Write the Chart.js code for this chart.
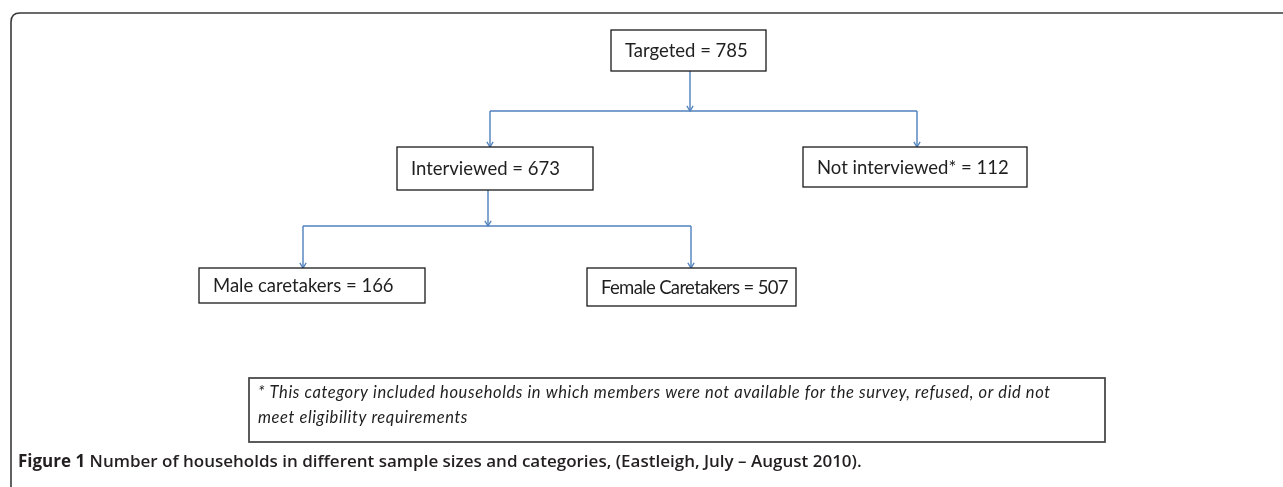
<!DOCTYPE html>
<html>
<head>
<meta charset="utf-8">
<script src="https://cdn.jsdelivr.net/npm/chart.js@4"></script>
<style>
  html, body { margin: 0; padding: 0; background: #fff; }
  canvas { display: block; }
</style>
</head>
<body>
<canvas id="flow" width="1283" height="487"></canvas>
<script>
// node names and household counts
const nodeNames = ['Targeted', 'Interviewed', 'Not interviewed*', 'Male caretakers', 'Female Caretakers'];
const nodeCounts = [785, 673, 112, 166, 507];
const footnoteLines = [
  '* This category included households in which members were not available for the survey, refused, or did not',
  'meet eligibility requirements'
];
const captionBold = 'Figure 1';
const captionText = ' Number of households in different sample sizes and categories, (Eastleigh, July \u2013 August 2010).';

// layout of the boxes, in axis units (x 0..1283, y 0..487 top down)
const boxLayout = [
  { x1: 611, y1: 30, x2: 766, y2: 71 },
  { x1: 397, y1: 147, x2: 593, y2: 190 },
  { x1: 803, y1: 147, x2: 1027, y2: 187 },
  { x1: 199, y1: 268, x2: 425, y2: 303 },
  { x1: 587, y1: 268, x2: 796, y2: 306 }
];
const footLayout = { x1: 249, y1: 378, x2: 1105, y2: 442 };

// connectors: [points], last point gets an arrow head when arrow is true
const connectors = [
  { pts: [[690, 71], [690, 111]], arrow: true },
  { pts: [[490, 111], [917, 111]], arrow: false },
  { pts: [[490, 111], [490, 147]], arrow: true },
  { pts: [[917, 111], [917, 147]], arrow: true },
  { pts: [[488, 190], [488, 226]], arrow: true },
  { pts: [[303, 226], [691, 226]], arrow: false },
  { pts: [[303, 226], [303, 268]], arrow: true },
  { pts: [[691, 226], [691, 268]], arrow: true }
];

const lineBlue = '#4f81bd';

const datasets = connectors.map(c => ({
  data: c.pts.map(p => ({ x: p[0], y: p[1] })),
  showLine: true,
  borderColor: lineBlue,
  borderWidth: 1.4,
  pointRadius: 0,
  arrow: c.arrow
}));

const flowPlugin = {
  id: 'flow',
  beforeDatasetsDraw(chart) {
    const ctx = chart.ctx;
    const xs = chart.scales.x, ys = chart.scales.y;
    const px = v => xs.getPixelForValue(v);
    const py = v => ys.getPixelForValue(v);

    // outer frame (top and left with rounded corner)
    ctx.save();
    ctx.strokeStyle = '#3a3a3a';
    ctx.lineWidth = 1.6;
    const r = 9;
    ctx.beginPath();
    ctx.moveTo(px(11), py(487));
    ctx.lineTo(px(11), py(13 + r));
    ctx.quadraticCurveTo(px(11), py(13), px(11 + r), py(13));
    ctx.lineTo(px(1283), py(13));
    ctx.stroke();
    ctx.restore();
  },
  afterDatasetsDraw(chart) {
    const ctx = chart.ctx;
    const xs = chart.scales.x, ys = chart.scales.y;
    const px = v => xs.getPixelForValue(v);
    const py = v => ys.getPixelForValue(v);

    // arrow heads
    ctx.save();
    ctx.strokeStyle = lineBlue;
    ctx.lineWidth = 1.3;
    chart.data.datasets.forEach(ds => {
      if (!ds.arrow) return;
      const n = ds.data.length;
      const a = ds.data[n - 2], b = ds.data[n - 1];
      const bx = px(b.x), by = py(b.y);
      const ang = Math.atan2(by - py(a.y), bx - px(a.x));
      const len = 6, spread = 0.55;
      ctx.beginPath();
      ctx.moveTo(bx - len * Math.cos(ang - spread), by - len * Math.sin(ang - spread));
      ctx.lineTo(bx, by);
      ctx.lineTo(bx - len * Math.cos(ang + spread), by - len * Math.sin(ang + spread));
      ctx.stroke();
    });
    ctx.restore();

    // boxes with labels (tighten letter spacing if a label would not fit)
    ctx.save();
    nodeNames.forEach((name, i) => {
      const b = boxLayout[i];
      const x = px(b.x1), y = py(b.y1);
      const w = px(b.x2) - x, h = py(b.y2) - y;
      ctx.fillStyle = '#fff';
      ctx.fillRect(x, y, w, h);
      ctx.strokeStyle = '#1a1a1a';
      ctx.lineWidth = 1.3;
      ctx.strokeRect(x, y, w, h);
      const label = name + ' = ' + nodeCounts[i];
      ctx.font = '18.5px Lato, sans-serif';
      ctx.letterSpacing = '0px';
      const maxW = w - 22;
      const tw = ctx.measureText(label).width;
      if (tw > maxW) {
        ctx.letterSpacing = Math.max(-1, (maxW - tw) / label.length).toFixed(2) + 'px';
      }
      ctx.fillStyle = '#1f1f1f';
      ctx.textBaseline = 'middle';
      ctx.textAlign = 'left';
      ctx.fillText(label, x + 14, y + h / 2 + 1);
    });
    ctx.letterSpacing = '0px';

    // footnote box
    const f = footLayout;
    const fx = px(f.x1), fy = py(f.y1);
    const fw = px(f.x2) - fx, fh = py(f.y2) - fy;
    ctx.strokeStyle = '#4a4a4a';
    ctx.lineWidth = 1.8;
    ctx.strokeRect(fx, fy, fw, fh);
    ctx.fillStyle = '#1f1f1f';
    ctx.font = 'italic 16.5px Lato, sans-serif';
    ctx.letterSpacing = '0.6px';
    ctx.textBaseline = 'middle';
    footnoteLines.forEach((t, i) => {
      ctx.fillText(t, fx + 9, fy + 15 + i * 25);
    });
    ctx.letterSpacing = '0px';

    // caption
    ctx.fillStyle = '#231f20';
    ctx.textBaseline = 'middle';
    ctx.font = 'bold 17px "Open Sans", sans-serif';
    const cx = px(18), cy = py(462);
    ctx.fillText(captionBold, cx, cy);
    const bw = ctx.measureText(captionBold).width;
    ctx.font = '600 17px "Open Sans", sans-serif';
    ctx.fillText(captionText, cx + bw, cy);
    ctx.restore();
  }
};

new Chart(document.getElementById('flow'), {
  type: 'scatter',
  data: { datasets: datasets },
  options: {
    responsive: false,
    animation: false,
    devicePixelRatio: 1,
    layout: { padding: 0 },
    plugins: { legend: { display: false }, tooltip: { enabled: false } },
    scales: {
      x: { type: 'linear', min: 0, max: 1283, display: false },
      y: { type: 'linear', min: 0, max: 487, reverse: true, display: false }
    }
  },
  plugins: [flowPlugin]
});
</script>
</body>
</html>
